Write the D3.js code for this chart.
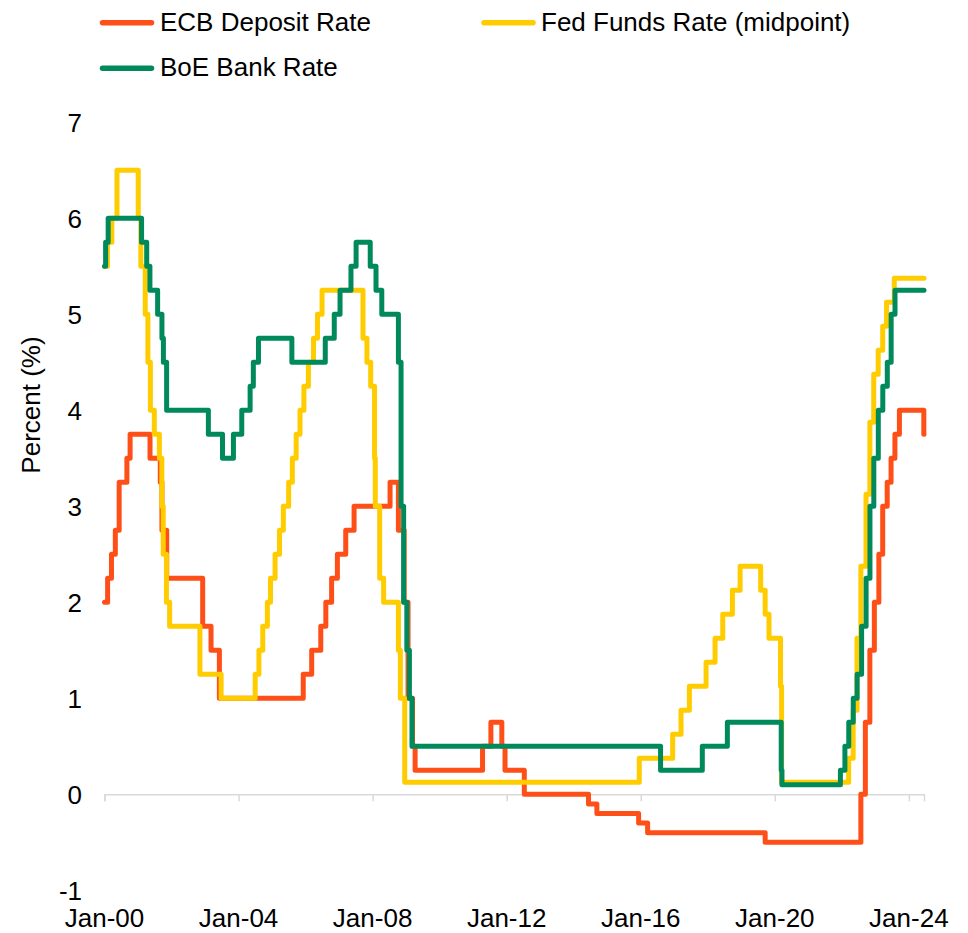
<!DOCTYPE html>
<html>
<head>
<meta charset="utf-8">
<title>Policy rates: ECB, Fed, BoE</title>
<script src="https://cdn.jsdelivr.net/npm/d3@7"></script>
<style>
  html, body { margin: 0; padding: 0; background: #fff; }
  svg { display: block; }
  text { font-family: "Liberation Sans", Arial, Helvetica, sans-serif; fill: #000; }
</style>
</head>
<body>
<svg id="chart" width="968" height="933"></svg>
<script>
// Policy rate changes: each date is the day a new rate took effect.
const ecbDates = ["2000-01-01","2000-02-04","2000-03-17","2000-04-28","2000-06-09","2000-09-01","2000-10-06",
  "2001-05-11","2001-08-31","2001-09-18","2001-11-09","2002-12-06","2003-03-07","2003-06-06",
  "2005-12-06","2006-03-08","2006-06-15","2006-08-09","2006-10-11","2006-12-13","2007-03-14","2007-06-13",
  "2008-07-09","2008-10-08","2008-11-12","2008-12-10","2009-01-21","2009-03-11","2009-04-08",
  "2011-04-13","2011-07-13","2011-11-09","2011-12-14","2012-07-11",
  "2014-06-11","2014-09-10","2015-12-09","2016-03-16","2019-09-18",
  "2022-07-27","2022-09-14","2022-11-02","2022-12-21","2023-02-08","2023-03-22","2023-05-10",
  "2023-06-21","2023-08-02","2023-09-20","2024-06-12"];
const ecbRates = [2.00,2.25,2.50,2.75,3.25,3.50,3.75,
  3.50,3.25,2.75,2.25,1.75,1.50,1.00,
  1.25,1.50,1.75,2.00,2.25,2.50,2.75,3.00,
  3.25,2.75,2.75,2.00,1.00,0.50,0.25,
  0.50,0.75,0.50,0.25,0.00,
  -0.10,-0.20,-0.30,-0.40,-0.50,
  0.00,0.75,1.50,2.00,2.50,3.00,3.25,
  3.50,3.75,4.00,3.75];

const fedDates = ["2000-01-01","2000-02-02","2000-03-21","2000-05-16",
  "2001-01-03","2001-01-31","2001-03-20","2001-04-18","2001-05-15","2001-06-27","2001-08-21",
  "2001-09-17","2001-10-02","2001-11-06","2001-12-11","2002-11-06","2003-06-25",
  "2004-06-30","2004-08-10","2004-09-21","2004-11-10","2004-12-14","2005-02-02","2005-03-22",
  "2005-05-03","2005-06-30","2005-08-09","2005-09-20","2005-11-01","2005-12-13","2006-01-31",
  "2006-03-28","2006-05-10","2006-06-29",
  "2007-09-18","2007-10-31","2007-12-11","2008-01-22","2008-01-30","2008-03-18","2008-04-30",
  "2008-10-08","2008-10-29","2008-12-16",
  "2015-12-16","2016-12-14","2017-03-15","2017-06-14","2017-12-13","2018-03-21","2018-06-13",
  "2018-09-26","2018-12-19","2019-07-31","2019-09-18","2019-10-30","2020-03-03","2020-03-15",
  "2022-03-16","2022-05-04","2022-06-15","2022-07-27","2022-09-21","2022-11-02","2022-12-14",
  "2023-02-01","2023-03-22","2023-05-03","2023-07-26"];
const fedRates = [5.50,5.75,6.00,6.50,
  6.00,5.50,5.00,4.50,4.00,3.75,3.50,
  3.00,2.50,2.00,1.75,1.25,1.00,
  1.25,1.50,1.75,2.00,2.25,2.50,2.75,
  3.00,3.25,3.50,3.75,4.00,4.25,4.50,
  4.75,5.00,5.25,
  4.75,4.50,4.25,3.50,3.00,2.25,2.00,
  1.50,1.00,0.125,
  0.375,0.625,0.875,1.125,1.375,1.625,1.875,
  2.125,2.375,2.125,1.875,1.625,1.125,0.125,
  0.375,0.875,1.625,2.375,3.125,3.875,4.375,
  4.625,4.875,5.125,5.375];

const boeDates = ["2000-01-01","2000-01-13","2000-02-10",
  "2001-02-08","2001-04-05","2001-05-10","2001-08-02","2001-09-18","2001-10-04","2001-11-08",
  "2003-02-06","2003-07-10","2003-11-06","2004-02-05","2004-05-06","2004-06-10","2004-08-05",
  "2005-08-04","2006-08-03","2006-11-09","2007-01-11","2007-05-10","2007-07-05","2007-12-06",
  "2008-02-07","2008-04-10","2008-10-08","2008-11-06","2008-12-04","2009-01-08","2009-02-05","2009-03-05",
  "2016-08-04","2017-11-02","2018-08-02","2020-03-11","2020-03-19",
  "2021-12-16","2022-02-03","2022-03-17","2022-05-05","2022-06-16","2022-08-04","2022-09-22",
  "2022-11-03","2022-12-15","2023-02-02","2023-03-23","2023-05-11","2023-06-22","2023-08-03"];
const boeRates = [5.50,5.75,6.00,
  5.75,5.50,5.25,5.00,4.75,4.50,4.00,
  3.75,3.50,3.75,4.00,4.25,4.50,4.75,
  4.50,4.75,5.00,5.25,5.50,5.75,5.50,
  5.25,5.00,4.50,3.00,2.00,1.50,1.00,0.50,
  0.25,0.50,0.75,0.25,0.10,
  0.25,0.50,0.75,1.00,1.25,1.75,2.25,
  3.00,3.50,4.00,4.25,4.50,5.00,5.25];

const startDate = "2000-01-01";
const endDate = "2024-06-14";

const seriesNames = ["ECB Deposit Rate", "Fed Funds Rate (midpoint)", "BoE Bank Rate"];
const seriesColors = ["#ff4f19", "#ffcc00", "#008a5c"];

const xTickYears = [2000, 2004, 2008, 2012, 2016, 2020, 2024];
const yTicks = [-1, 0, 1, 2, 3, 4, 5, 6, 7];
const yTitle = "Percent (%)";

// ---- drawing ----
const parse = d3.timeParse("%Y-%m-%d");
const svg = d3.select("#chart");

const x = d3.scaleTime()
  .domain([parse(startDate), parse(endDate)])
  .range([104.5, 924]);
const y = d3.scaleLinear().domain([-1, 7]).range([890.3, 122.3]);

// Turn a list of rate changes into a step path that runs to the last day shown
function build(dates, rates) {
  const pts = dates.map((d, i) => ({ date: parse(d), value: rates[i] }));
  pts.push({ date: parse(endDate), value: rates[rates.length - 1] });
  return pts;
}
const series = [
  build(ecbDates, ecbRates),
  build(fedDates, fedRates),
  build(boeDates, boeRates)
];

// x axis drawn along the zero line
const xAxis = d3.axisBottom(x)
  .tickValues(xTickYears.map(yr => new Date(yr, 0, 1)))
  .tickSize(7)
  .tickFormat("");
const gx = svg.append("g")
  .attr("transform", `translate(0,${y(0)})`)
  .call(xAxis);
gx.select(".domain").attr("stroke", "#d9d9d9").attr("stroke-width", 1.5);
gx.selectAll(".tick line").attr("stroke", "#d9d9d9").attr("stroke-width", 1.5);

// x labels sit below the plot
svg.append("g").selectAll("text")
  .data(xTickYears)
  .join("text")
  .attr("x", yr => x(new Date(yr, 0, 1)))
  .attr("y", 927)
  .attr("text-anchor", "middle")
  .style("font-size", "26px")
  .text(yr => "Jan-" + d3.format("02")(yr % 100));

// y labels, no axis line
svg.append("g").selectAll("text")
  .data(yTicks)
  .join("text")
  .attr("x", 82)
  .attr("y", v => y(v) + 9.5)
  .attr("text-anchor", "end")
  .style("font-size", "26px")
  .text(v => v);

svg.append("text")
  .attr("transform", "translate(40,405) rotate(-90)")
  .attr("text-anchor", "middle")
  .style("font-size", "26px")
  .text(yTitle);

// rate lines
const line = d3.line()
  .x(d => x(d.date))
  .y(d => y(d.value))
  .curve(d3.curveStepAfter);

svg.append("g").selectAll("path")
  .data(series)
  .join("path")
  .attr("d", line)
  .attr("fill", "none")
  .attr("stroke", (d, i) => seriesColors[i])
  .attr("stroke-width", 5)
  .attr("stroke-linejoin", "round")
  .attr("stroke-linecap", "round");

// legend
const legendPos = [
  { lx: 102.5, ly: 22.7, tx: 160, ty: 30.7 },
  { lx: 484, ly: 22.7, tx: 541, ty: 30.7 },
  { lx: 102.5, ly: 68.3, tx: 160, ty: 76 }
];
const lg = svg.append("g").selectAll("g")
  .data(seriesNames)
  .join("g");
lg.append("line")
  .attr("x1", (d, i) => legendPos[i].lx)
  .attr("x2", (d, i) => legendPos[i].lx + 49)
  .attr("y1", (d, i) => legendPos[i].ly)
  .attr("y2", (d, i) => legendPos[i].ly)
  .attr("stroke", (d, i) => seriesColors[i])
  .attr("stroke-width", 5.5)
  .attr("stroke-linecap", "round");
lg.append("text")
  .attr("x", (d, i) => legendPos[i].tx)
  .attr("y", (d, i) => legendPos[i].ty)
  .style("font-size", "26px")
  .text(d => d);
</script>
</body>
</html>
